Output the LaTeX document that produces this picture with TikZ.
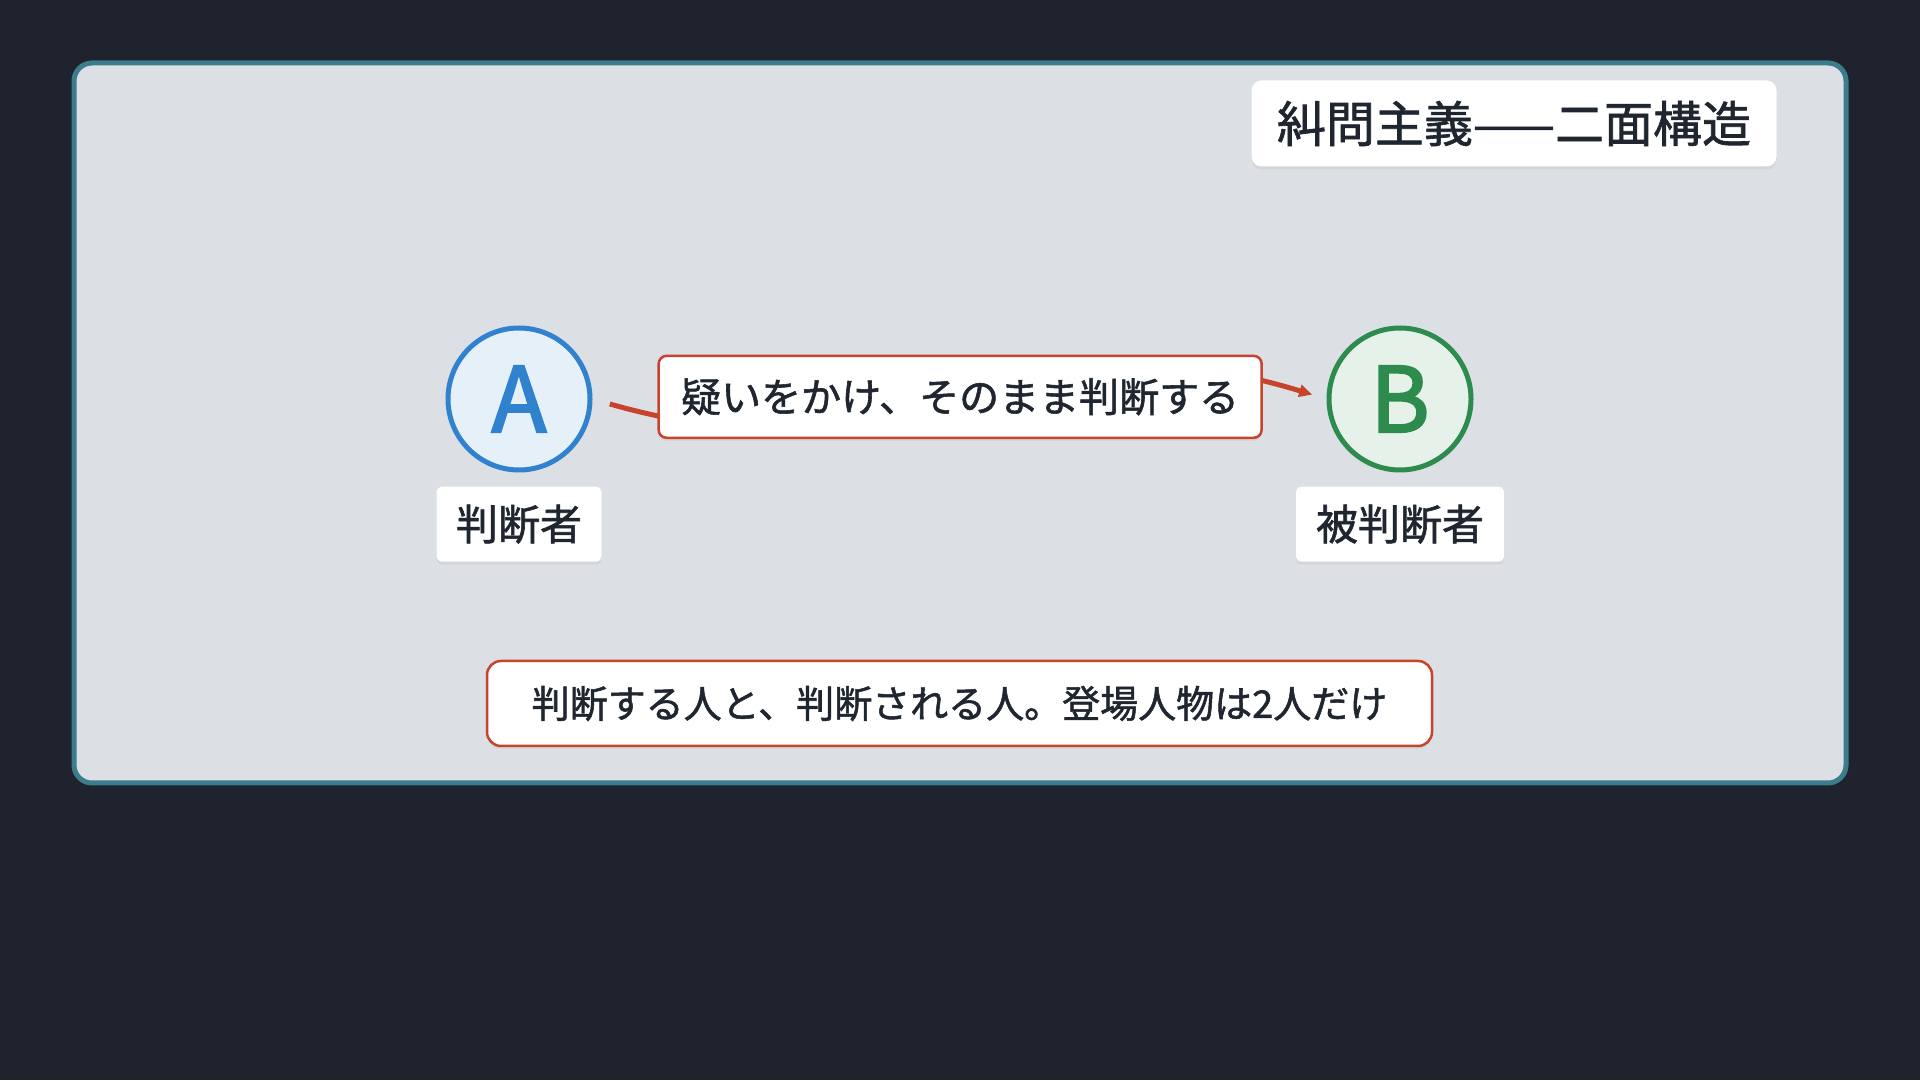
\documentclass[tikz,border=0pt]{standalone}
\usepackage{fontspec}
\setmainfont[FakeBold=1.4]{Noto Sans CJK JP}
\newfontfamily\letterfont[FakeBold=2.5]{Noto Sans CJK JP}
\usetikzlibrary{arrows.meta, positioning, shadows}
\definecolor{night}{HTML}{1E232D}
\definecolor{panel}{HTML}{DCE0E5}
\definecolor{teal}{HTML}{3B7D8C}
\definecolor{ink}{HTML}{1F2630}
\definecolor{blueA}{HTML}{3182CE}
\definecolor{greenB}{HTML}{2E8B4E}
\definecolor{redline}{HTML}{C8432B}
\tikzset{
who/.style={circle,line width=5pt,minimum size=142pt,inner sep=0pt,font=\fontsize{90}{90}\letterfont},
tag/.style={fill=white,rounded corners=6pt,inner xsep=0pt,inner ysep=0pt,minimum height=75pt,text=ink,
  font=\fontsize{42}{50}\selectfont,drop shadow={opacity=.1,shadow xshift=0pt,shadow yshift=-3pt}},
say/.style={tag,draw=redline,line width=2.5pt,rounded corners=8pt,minimum height=82pt,font=\fontsize{40}{46}\selectfont}
}
\begin{document}
\begin{tikzpicture}[x=1pt,y=1pt]
	\fill[night] (0,0) rectangle (1920,1080);
	\filldraw[fill=panel,draw=teal,line width=5pt,rounded corners=18pt] (74,297) rectangle (1846,1017);
	\node[tag,rounded corners=10pt,minimum height=86pt,minimum width=525pt,font=\fontsize{49}{56}\selectfont,drop shadow={opacity=0}] (T) at (1514,956.5) {糾問主義——二面構造};
	\node[who,draw=blueA,fill=blueA!12,text=blueA] (A) at (519,681) {A};
	\node[who,draw=greenB,fill=greenB!12,text=greenB] (B) at (1400,681) {B};
	\node[tag,minimum width=165pt,below=14pt of A] (LA) {判断者};
	\node[tag,minimum width=208pt,below=14pt of B] (LB) {被判断者};
	\draw[redline,line width=5pt,shorten <=18pt,shorten >=15pt,-{Triangle[length=13pt,width=12pt]}]
	(A.east) to[out=-16,in=163,looseness=1.2] node[say,minimum width=603pt] (Q) {疑いをかけ、そのまま判断する} (B.west);
	\node[say,rounded corners=14pt,minimum width=945pt,minimum height=85pt,font=\fontsize{38}{46}\selectfont] (S) at (959.5,376.5) {判断する人と、判断される人。登場人物は2人だけ};
\end{tikzpicture}
\end{document}
